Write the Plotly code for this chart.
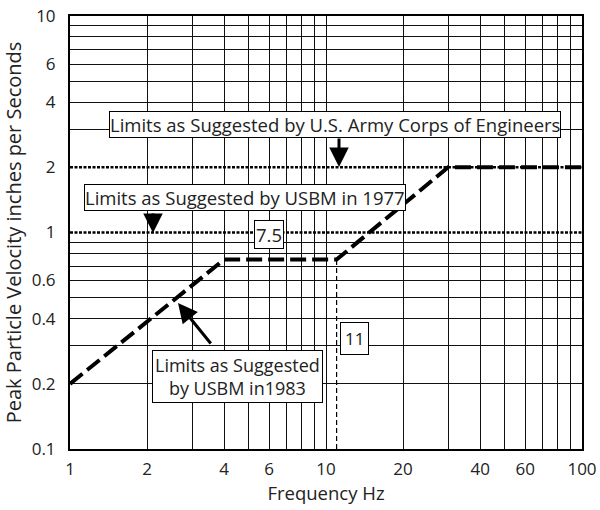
import plotly.graph_objects as go

# ---- data ----
usbm1983_freq = [1, 4, 11, 30, 100]
usbm1983_ppv = [0.2, 0.75, 0.75, 2.0, 2.0]
army_limit_freq = [1, 100]
army_limit_ppv = [2.0, 2.0]
usbm1977_freq = [1, 100]
usbm1977_ppv = [1.0, 1.0]
marker11_freq = [11, 11]
marker11_ppv = [0.1, 0.75]

x_tickvals = [1, 2, 4, 6, 10, 20, 40, 60, 100]
x_ticktext = ["1", "2", "4", "6", "10", "20", "40", "60", "100"]
y_tickvals = [0.1, 0.2, 0.4, 0.6, 1, 2, 4, 6, 10]
y_ticktext = ["0.1", "0.2", "0.4", "0.6", "1", "2", "4", "6", "10"]
x_grid = [2, 3, 4, 5, 6, 7, 8, 9, 10, 20, 30, 40, 50, 60, 70, 80, 90]
y_grid = [0.2, 0.3, 0.4, 0.5, 0.6, 0.7, 0.8, 0.9, 3, 4, 5, 6, 7, 8, 9]

FONT = "Open Sans"
TXT = "#222222"

fig = go.Figure()
fig.add_trace(go.Scatter(x=army_limit_freq, y=army_limit_ppv, mode="lines",
                         line=dict(color="black", width=2.5, dash="3px,1.5px"),
                         hoverinfo="skip", showlegend=False))
fig.add_trace(go.Scatter(x=usbm1977_freq, y=usbm1977_ppv, mode="lines",
                         line=dict(color="black", width=2.5, dash="3px,1.5px"),
                         hoverinfo="skip", showlegend=False))
fig.add_trace(go.Scatter(x=marker11_freq, y=marker11_ppv, mode="lines",
                         line=dict(color="black", width=1.2, dash="5px,3px"),
                         hoverinfo="skip", showlegend=False))
fig.add_trace(go.Scatter(x=usbm1983_freq, y=usbm1983_ppv, mode="lines",
                         line=dict(color="black", width=4, dash="16px,6px"),
                         hoverinfo="skip", showlegend=False))

L, R, T, B = 70, 582, 16, 449
W, H = R - L, B - T


def px(x):
    return (x - L) / W


def py(y):
    return (B - y) / H


def box(size, pad):
    return dict(showarrow=False, bgcolor="white", bordercolor="black", borderwidth=1,
                font=dict(family=FONT, size=size, color=TXT), xref="paper", yref="paper",
                xanchor="center", yanchor="middle", borderpad=pad)


annotations = [
    dict(text="Limits as Suggested by U.S. Army Corps of Engineers", x=px(335), y=py(124), **box(18.5, 0)),
    dict(text="Limits as Suggested by USBM in 1977", x=px(244.5), y=py(198), **box(18.5, 0)),
    dict(text="7.5", x=px(269), y=py(234), **box(18.5, 1)),
    dict(text="11", x=px(354.5), y=py(338.5), **box(17, 4)),
    dict(text="Limits as Suggested<br>by USBM in1983", x=px(237), y=py(376.5), **box(18, 2)),
]

arrow = dict(text="", showarrow=True, arrowhead=2, arrowsize=1.3, arrowwidth=3,
             arrowcolor="black", xref="paper", yref="paper", axref="pixel", ayref="pixel",
             standoff=0, startstandoff=0)
annotations += [
    dict(x=px(339), y=py(167), ax=0, ay=-30, **arrow),
    dict(x=px(153), y=py(233), ax=0, ay=-21, **arrow),
    dict(x=px(178), y=py(303), ax=34, ay=42, **arrow),
]

grid = dict(showgrid=True, gridcolor="#111111", gridwidth=1.3, ticks="")

fig.update_layout(
    width=600, height=510,
    margin=dict(l=L, r=600 - R, t=T, b=510 - B),
    paper_bgcolor="white", plot_bgcolor="white",
    font=dict(family=FONT, size=17, color=TXT),
    annotations=annotations,
    xaxis=dict(type="log", range=[0, 2], tickmode="array", tickvals=x_tickvals,
               ticktext=x_ticktext, showgrid=False, zeroline=False, automargin=False,
               showline=True, linecolor="black", linewidth=2, mirror=True,
               ticks="", ticklabelstandoff=4,
               minor=dict(tickmode="array", tickvals=x_grid, **grid),
               title=dict(text="Frequency Hz", font=dict(size=18.5, family=FONT, color=TXT), standoff=6),
               tickfont=dict(size=17, family=FONT, color=TXT)),
    yaxis=dict(type="log", range=[-1, 1], tickmode="array", tickvals=y_tickvals,
               ticktext=y_ticktext, showgrid=False, zeroline=False, automargin=False,
               showline=True, linecolor="black", linewidth=2, mirror=True,
               ticks="", ticklabelstandoff=9,
               minor=dict(tickmode="array", tickvals=y_grid, **grid),
               title=dict(text="Peak Particle Velocity inches per Seconds",
                          font=dict(size=20, family=FONT, color=TXT), standoff=6),
               tickfont=dict(size=17, family=FONT, color=TXT)),
)

fig.write_html("out.html")
